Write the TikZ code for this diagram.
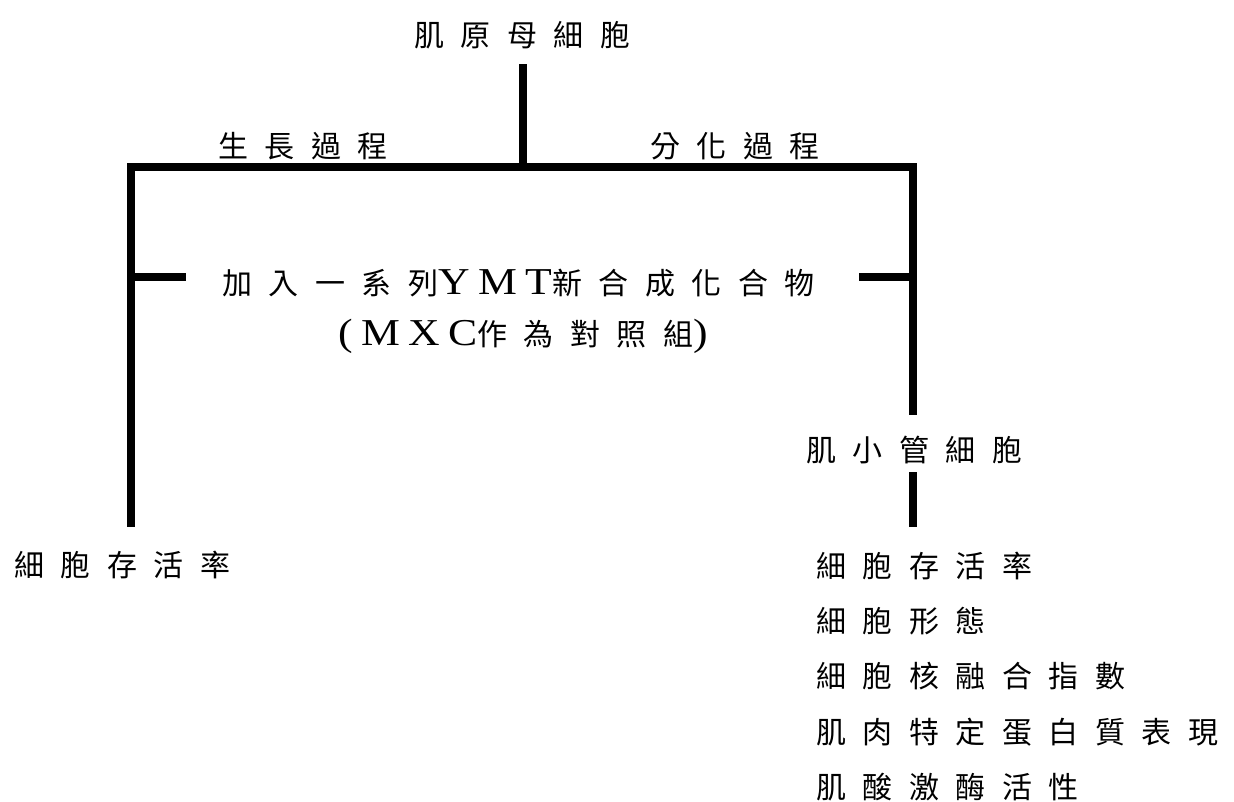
\documentclass[tikz,border=0pt]{standalone}
\usepackage{fontspec}
\newfontfamily\cjk[LetterSpace=55]{Noto Sans CJK TC}
\newfontfamily\lat[LetterSpace=22,FakeStretch=1.15]{Liberation Serif}
\newcommand{\latt}[1]{{\fontsize{38}{38}\lat #1}}
\begin{document}
\begin{tikzpicture}[x=1pt,y=-1pt,
  lbl/.style={anchor=west,inner sep=0pt,font=\fontsize{30}{30}\cjk},
  bar/.style={line width=7.5pt,line cap=butt}]
\useasboundingbox[fill=white] (0,0) rectangle (1234,801);
% texts
\node[lbl] (top) at (414,35) {肌原母細胞};
\node[lbl] (grow) at (218,146) {生長過程};
\node[lbl] (diff) at (650,146) {分化過程};
\node[lbl] (mid1) at (222,283) {加入一系列\latt{YMT}新合成化合物};
\node[lbl] (mid2) at (338,336) {\latt{(MXC}作為對照組\latt{)}};
\node[lbl] (myo) at (806,450) {肌小管細胞};
\node[lbl] (survL) at (14,565) {細胞存活率};
\node[lbl] (r1) at (816,566) {細胞存活率};
\node[lbl] (r2) at (816,621) {細胞形態};
\node[lbl] (r3) at (816,676) {細胞核融合指數};
\node[lbl] (r4) at (816,732) {肌肉特定蛋白質表現};
\node[lbl] (r5) at (816,787) {肌酸激酶活性};
% connector points
\coordinate (stemtop) at (523,64);
\coordinate (j) at (523,167);
\coordinate (L) at (127,167);
\coordinate (R) at (917,167);
\coordinate (Lc) at (131,167);
\coordinate (Rc) at (913,167);
\coordinate (Lend) at (131,527);
\coordinate (Rend) at (913,415);
\coordinate (R2top) at (913,472);
\coordinate (R2end) at (913,527);
\coordinate (Ls) at (131,277);
\coordinate (Lse) at (186,277);
\coordinate (Rs) at (913,277);
\coordinate (Rse) at (859,277);
% lines
\draw[bar] (stemtop) -- (j);
\draw[bar] (L) -- (R);
\draw[bar] (Lc) -- (Lend);
\draw[bar] (Rc) -- (Rend);
\draw[bar] (R2top) -- (R2end);
\draw[bar] (Ls) -- (Lse);
\draw[bar] (Rs) -- (Rse);
\end{tikzpicture}
\end{document}
